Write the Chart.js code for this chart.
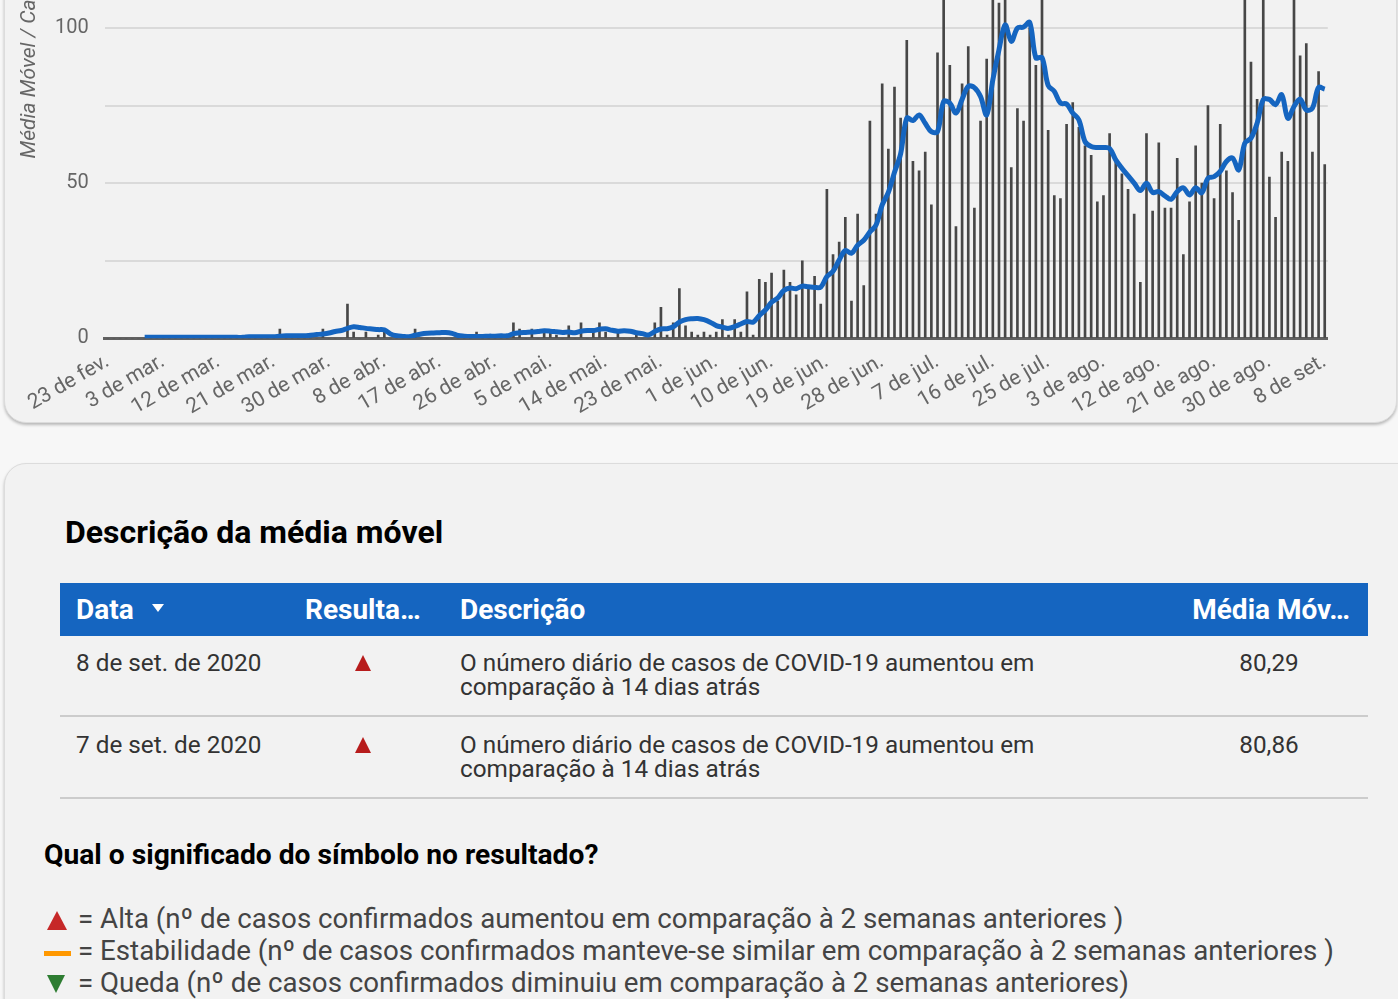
<!DOCTYPE html>
<html lang="pt-BR">
<head>
<meta charset="UTF-8">
<title>Média móvel</title>
<script src="https://cdn.jsdelivr.net/npm/chart.js"></script>
<style>
  html, body { margin: 0; padding: 0; }
  body {
    width: 1398px; height: 999px; overflow: hidden; position: relative;
    background: #f7f7f7; font-family: Roboto, Arial, sans-serif;
  }
  .card {
    position: absolute; background: #f2f2f2; border: 1px solid #dcdcdc;
    border-radius: 22px; box-shadow: 0 2px 3px rgba(0,0,0,0.25);
  }
  #chartCard { left: 4px; top: -364px; width: 1391px; height: 785px; }
  #chartCard canvas { position: absolute; left: 0; top: 0; }
  #tableCard { left: 4px; top: 463px; width: 1430px; height: 640px; }
  .abs { position: absolute; white-space: nowrap; }
  .h1 { left: 65px; top: 516px; font-size: 32px; line-height: 32px; font-weight: 700; color: #000; }
  .thead { left: 60px; top: 583px; width: 1308px; height: 53px; background: #1565c0; }
  .th { top: 583px; line-height: 53px; font-size: 28px; font-weight: 700; color: #fff; }
  .sort { left: 152px; top: 604px; width: 0; height: 0; border-left: 6px solid transparent;
          border-right: 6px solid transparent; border-top: 8px solid #fff; }
  .td { font-size: 24.3px; line-height: 24px; color: #333; }
  .up { width: 0; height: 0; border-left: 8.5px solid transparent; border-right: 8.5px solid transparent;
        border-bottom: 16px solid #b71c1c; }
  .sep { left: 60px; width: 1308px; height: 2px; background: #cccccc; }
  .h2 { left: 44px; top: 841px; font-size: 28.2px; line-height: 28px; font-weight: 700; color: #000; }
  .leg { left: 78px; font-size: 27.7px; line-height: 32px; color: #444; }
</style>
</head>
<body>
<div class="card" id="chartCard"><canvas id="chart" width="1391" height="785"></canvas></div>
<div class="card" id="tableCard"></div>

<div class="abs h1">Descrição da média móvel</div>
<div class="abs thead"></div>
<div class="abs th" style="left:76px">Data</div>
<div class="abs sort"></div>
<div class="abs th" style="left:305px">Resulta…</div>
<div class="abs th" style="left:460px">Descrição</div>
<div class="abs th" style="left:1150px;width:200px;text-align:right">Média Móv…</div>

<div class="abs td" style="left:76px;top:651px">8 de set. de 2020</div>
<div class="abs up" style="left:355px;top:655px"></div>
<div class="abs td" style="left:460px;top:651px">O número diário de casos de COVID-19 aumentou em<br>comparação à 14 dias atrás</div>
<div class="abs td" style="left:1169px;top:651px;width:200px;text-align:center">80,29</div>
<div class="abs sep" style="top:715px"></div>

<div class="abs td" style="left:76px;top:733px">7 de set. de 2020</div>
<div class="abs up" style="left:355px;top:737px"></div>
<div class="abs td" style="left:460px;top:733px">O número diário de casos de COVID-19 aumentou em<br>comparação à 14 dias atrás</div>
<div class="abs td" style="left:1169px;top:733px;width:200px;text-align:center">80,86</div>
<div class="abs sep" style="top:797px"></div>

<div class="abs h2">Qual o significado do símbolo no resultado?</div>
<div class="abs" style="left:47px;top:911px;width:0;height:0;border-left:10px solid transparent;border-right:10px solid transparent;border-bottom:19px solid #c62828"></div>
<div class="abs leg" style="top:903px">= Alta (nº de casos confirmados aumentou em comparação à 2 semanas anteriores )</div>
<div class="abs" style="left:44px;top:951px;width:27px;height:5px;background:#ff9800"></div>
<div class="abs leg" style="top:935px">= Estabilidade (nº de casos confirmados manteve-se similar em comparação à 2 semanas anteriores )</div>
<div class="abs" style="left:47px;top:975px;width:0;height:0;border-left:9px solid transparent;border-right:9px solid transparent;border-top:18px solid #2e7d32"></div>
<div class="abs leg" style="top:967px">= Queda (nº de casos confirmados diminuiu em comparação à 2 semanas anteriores)</div>

<script>
// dias de 23/02/2020 a 08/09/2020
const startDate = new Date(2020, 1, 23);
const numDays = 199;
const monthNames = ['jan.', 'fev.', 'mar.', 'abr.', 'mai.', 'jun.', 'jul.', 'ago.', 'set.'];

const tickLabels = ['23 de fev.', '3 de mar.', '12 de mar.', '21 de mar.', '30 de mar.', '8 de abr.',
  '17 de abr.', '26 de abr.', '5 de mai.', '14 de mai.', '23 de mai.', '1 de jun.', '10 de jun.',
  '19 de jun.', '28 de jun.', '7 de jul.', '16 de jul.', '25 de jul.', '3 de ago.', '12 de ago.',
  '21 de ago.', '30 de ago.', '8 de set.'];
const yTickLabels = [0, 50, 100, 150, 200];

// casos confirmados por dia
const casos = [
  0, 0, 0, 0, 0, 0, 0, 0, 0, 0,
  0, 0, 0, 0, 0, 0, 0, 0, 0, 0,
  0, 0, 0, 0, 0, 0, 0, 0, 3, 0,
  0, 0, 0, 0, 0, 3, 0, 0, 0, 11,
  2, 0, 2, 0, 1, 2, 0, 0, 0, 0,
  3, 0, 0, 0, 0, 0, 0, 0, 0, 0,
  2, 0, 0, 0, 0, 0, 5, 3, 0, 3,
  0, 2, 2, 1, 0, 4, 0, 5, 0, 2,
  5, 2, 0, 2, 0, 0, 2, 0, 0, 5,
  10, 1, 5, 16, 4, 2, 1, 2, 1, 2,
  6, 1, 6, 2, 15, 1, 19, 18, 21, 12,
  22, 18, 14, 25, 16, 20, 11, 48, 27, 31,
  39, 12, 40, 17, 70, 40, 82, 61, 81, 71,
  96, 57, 54, 60, 43, 92, 139, 88, 36, 82,
  94, 42, 70, 90, 162, 108, 136, 55, 74, 70,
  100, 88, 111, 67, 46, 45, 69, 76, 68, 62,
  59, 44, 46, 66, 57, 53, 48, 40, 18, 66,
  41, 63, 42, 42, 58, 27, 44, 62, 50, 75,
  45, 69, 54, 47, 38, 110, 89, 77, 122, 52,
  39, 60, 57, 117, 91, 95, 60, 86, 56
];

// média móvel (7 dias)
const mediaMovel = [
  null, null, null, null, null, null, 0.3, 0.3, 0.3, 0.3,
  0.3, 0.3, 0.3, 0.3, 0.3, 0.3, 0.3, 0.3, 0.3, 0.3,
  0.3, 0.3, 0.3, 0.5, 0.5, 0.5, 0.5, 0.5, 0.7, 0.8,
  0.8, 0.8, 0.8, 1.0, 1.2, 1.4, 1.7, 2.2, 2.5, 3.2,
  3.7, 3.5, 3.2, 3.0, 2.8, 2.7, 1.4, 0.8, 0.6, 0.5,
  1.0, 1.4, 1.6, 1.7, 1.8, 1.9, 1.6, 0.9, 0.7, 0.6,
  0.6, 0.6, 0.7, 0.7, 0.8, 0.8, 1.5, 1.8, 1.9, 2.0,
  2.2, 2.4, 2.3, 2.1, 1.9, 2.0, 1.8, 2.3, 2.5, 2.5,
  2.9, 3.1, 2.6, 2.3, 2.4, 2.3, 1.8, 1.5, 1.1, 2.2,
  3.0, 3.1, 3.7, 5.2, 6.0, 6.3, 6.4, 6.0, 5.2, 4.1,
  3.6, 3.2, 3.8, 4.6, 5.4, 5.2, 7.3, 9.1, 11.6, 13.0,
  15.4, 16.2, 16.0, 16.8, 16.6, 16.4, 16.5, 19.9, 21.6, 25.2,
  28.3, 27.4, 30.0, 31.6, 34.3, 36.5, 43.0, 47.0, 53.5, 59.5,
  71.0, 70.2, 72.0, 69.3, 66.6, 66.6, 76.3, 75.8, 72.6, 77.0,
  81.2, 80.8, 77.9, 72.0, 83.3, 93.0, 101.0, 95.7, 100.0, 100.3,
  101.8, 90.4, 90.5, 81.5, 79.6, 75.8, 75.5, 72.6, 70.4, 63.4,
  61.8, 61.5, 61.5, 61.2, 57.5, 54.8, 52.4, 50.0, 47.6, 50.0,
  47.0, 47.3, 45.9, 44.8, 47.3, 48.5, 46.2, 48.5, 46.9, 51.6,
  52.1, 53.8, 57.0, 58.1, 54.3, 62.9, 64.5, 69.3, 76.9, 77.0,
  75.3, 78.5, 70.9, 74.7, 77.1, 73.6, 74.2, 80.86, 80.29
];

const categories = [];
for (let i = 0; i < numDays; i++) {
  const d = new Date(startDate.getFullYear(), startDate.getMonth(), startDate.getDate() + i);
  categories.push(d.getDate() + ' de ' + monthNames[d.getMonth()]);
}

const ctx = document.getElementById('chart').getContext('2d');
new Chart(ctx, {
  type: 'bar',
  data: {
    labels: categories,
    datasets: [
      {
        type: 'line',
        label: 'Média Móvel',
        data: mediaMovel,
        borderColor: '#1565c0',
        borderWidth: 5,
        pointRadius: 0,
        tension: 0.35,
        order: 0
      },
      {
        type: 'bar',
        label: 'Casos confirmados',
        data: casos,
        backgroundColor: '#474747',
        barThickness: 2,
        order: 1
      }
    ]
  },
  options: {
    responsive: false,
    animation: false,
    layout: { padding: { top: 28, right: 68.2, left: 0, bottom: 0 } },
    plugins: { legend: { display: false }, tooltip: { enabled: false } },
    scales: {
      x: {
        grid: { display: false, drawTicks: false },
        border: { display: true, color: '#616161', width: 3 },
        ticks: {
          autoSkip: false,
          minRotation: 30,
          maxRotation: 30,
          padding: 11,
          color: '#666',
          font: { family: 'Roboto', size: 21 },
          callback: (v, i) => (i % 9 === 0 ? tickLabels[i / 9] : null)
        },
        afterFit: s => { s.height = 83.7; }
      },
      y: {
        min: 0,
        max: 217,
        grid: { color: '#dadada', lineWidth: 2, drawTicks: false },
        border: { display: false },
        ticks: {
          stepSize: 25,
          padding: 16,
          color: '#666',
          font: { family: 'Roboto', size: 20 },
          callback: v => (yTickLabels.includes(v) ? String(v) : '')
        },
        title: {
          display: true,
          text: 'Média Móvel / Casos Confirmados',
          color: '#666',
          font: { family: 'Roboto', size: 21, style: 'italic' },
          padding: { top: 12, bottom: 0 }
        },
        afterFit: s => { s.width = 99.7; }
      }
    }
  }
});
</script>
</body>
</html>
